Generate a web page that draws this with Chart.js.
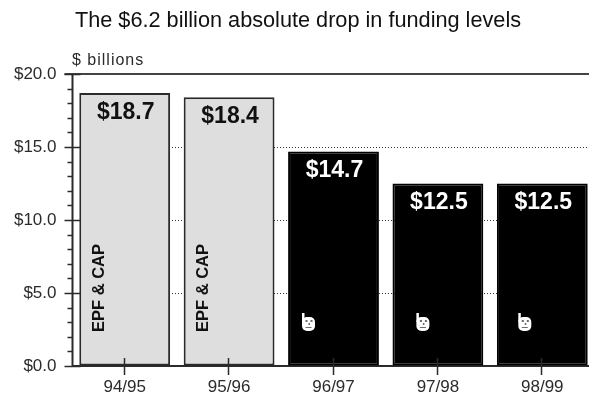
<!DOCTYPE html>
<html>
<head>
<meta charset="utf-8">
<style>
  html, body { margin: 0; padding: 0; background: #fff; overflow: hidden; }
  #wrap { width: 589px; height: 394px; overflow: hidden; }
  canvas { display: block; }
</style>
<script src="https://cdn.jsdelivr.net/npm/chart.js@4/dist/chart.umd.min.js"></script>
</head>
<body>
<div id="wrap"><canvas id="fundingChart" width="600" height="394"></canvas></div>
<script>
const categories = ['94/95', '95/96', '96/97', '97/98', '98/99'];
const fundingValues = [18.7, 18.4, 14.7, 12.5, 12.5];
const valueLabels = ['$18.7', '$18.4', '$14.7', '$12.5', '$12.5'];
const programLabels = ['EPF & CAP', 'EPF & CAP', '', '', ''];
const yTickLabels = { 0: '$0.0', 5: '$5.0', 10: '$10.0', 15: '$15.0', 20: '$20.0' };
const barColors = ['#dedede', '#dedede', '#000000', '#000000', '#000000'];
const barBorders = ['#2b2b2b', '#2b2b2b', '#000000', '#000000', '#000000'];
const labelColors = ['#111111', '#111111', '#ffffff', '#ffffff', '#ffffff'];

const INK = '#2b2b2b';
const FONT = '"Liberation Sans", Arial, sans-serif';

// little white face near the foot of the black bars
function drawFace(ctx, x, y) {
  ctx.fillStyle = '#ffffff';
  ctx.beginPath();
  ctx.roundRect(x - 6.5, y - 5, 13, 14, 5);
  ctx.fill();
  ctx.fillRect(x - 6.5, y - 9, 2.5, 9);
  ctx.fillStyle = '#6b6b6b';
  ctx.fillRect(x - 3, y - 2, 2, 2);
  ctx.fillRect(x + 2, y - 2, 2, 2);
  ctx.fillRect(x, y + 1, 1.5, 2);
  ctx.fillRect(x - 3, y + 5, 6, 1);
}

const annotations = {
  id: 'annotations',
  afterDraw(chart) {
    const { ctx, scales: { x, y } } = chart;
    const axisX = chart.chartArea.left;
    const baseY = y.getPixelForValue(0);
    const topY = y.getPixelForValue(20);
    const bars = chart.getDatasetMeta(0).data;
    ctx.save();

    // axis line and the closed top edge
    ctx.strokeStyle = INK;
    ctx.lineWidth = 2;
    ctx.beginPath();
    ctx.moveTo(axisX, topY);
    ctx.lineTo(axisX, baseY);
    ctx.stroke();
    ctx.strokeStyle = '#444444';
    ctx.beginPath();
    ctx.moveTo(axisX - 8, topY);
    ctx.lineTo(chart.width, topY);
    ctx.stroke();

    // y axis ticks, long ones on the labelled values
    ctx.strokeStyle = INK;
    ctx.lineWidth = 1.5;
    for (let v = 0; v <= 20; v++) {
      const py = Math.round(y.getPixelForValue(v)) + 0.5;
      const major = v % 5 === 0;
      ctx.beginPath();
      ctx.moveTo(axisX - (major ? 8 : 5), py);
      ctx.lineTo(axisX + (major ? 8 : 0), py);
      ctx.stroke();
    }
    // category ticks cross the baseline
    categories.forEach((c, i) => {
      const px = Math.round(x.getPixelForValue(i)) - 0.5;
      ctx.beginPath();
      ctx.moveTo(px, baseY - 8);
      ctx.lineTo(px, baseY + 9);
      ctx.stroke();
    });

    // value labels inside the top of each bar
    ctx.textAlign = 'center';
    ctx.textBaseline = 'middle';
    ctx.font = 'bold 23px ' + FONT;
    bars.forEach((bar, i) => {
      ctx.fillStyle = labelColors[i];
      ctx.fillText(valueLabels[i], bar.x + 1, bar.y + 19.5);
    });

    // program names run up the light bars
    ctx.font = 'bold 16.5px ' + FONT;
    ctx.fillStyle = '#111111';
    bars.forEach((bar, i) => {
      if (!programLabels[i]) return;
      ctx.save();
      ctx.translate(bar.x - 25.5, baseY - 78);
      ctx.rotate(-Math.PI / 2);
      ctx.fillText(programLabels[i], 0, 0);
      ctx.restore();
    });

    drawFace(ctx, bars[2].x - 25, 322);
    drawFace(ctx, bars[3].x - 15, 322);
    drawFace(ctx, bars[4].x - 17.5, 322);

    // heading and unit note
    ctx.fillStyle = '#111111';
    ctx.font = '21.7px ' + FONT;
    ctx.textAlign = 'center';
    ctx.fillText('The $6.2 billion absolute drop in funding levels', 298, 21);
    ctx.fillStyle = INK;
    ctx.font = '16px ' + FONT;
    ctx.textAlign = 'left';
    ctx.letterSpacing = '1px';
    ctx.fillText('$ billions', 72, 61);
    ctx.restore();
  }
};

new Chart(document.getElementById('fundingChart').getContext('2d'), {
  type: 'bar',
  data: {
    labels: categories,
    datasets: [
      {
        data: fundingValues,
        backgroundColor: barColors,
        borderColor: barBorders,
        borderWidth: 2,
        borderSkipped: false,
        categoryPercentage: 0.87,
        barPercentage: 1,
      },
    ],
  },
  options: {
    responsive: false,
    animation: false,
    layout: { padding: { top: 74, right: 5.5, left: 0, bottom: 0 } },
    plugins: { legend: { display: false }, tooltip: { enabled: false } },
    scales: {
      x: {
        afterFit: (scale) => { scale.height = 28; },
        grid: { display: false },
        border: { color: INK, width: 2 },
        ticks: { color: INK, font: { family: FONT, size: 17 }, padding: 3, maxRotation: 0 },
      },
      y: {
        min: 0,
        max: 20,
        afterFit: (scale) => { scale.width = 72.5; },
        border: { display: false, dash: [1, 2] },
        grid: {
          drawTicks: false,
          color: (ctx) => {
            const v = ctx.tick.value;
            return v === 5 || v === 10 || v === 15 ? '#333333' : 'transparent';
          },
          lineWidth: 1,
        },
        ticks: {
          stepSize: 1,
          autoSkip: false,
          color: INK,
          font: { family: FONT, size: 17 },
          padding: 16,
          callback: (v) => yTickLabels[v] || '',
        },
      },
    },
  },
  plugins: [annotations],
});
</script>
</body>
</html>
